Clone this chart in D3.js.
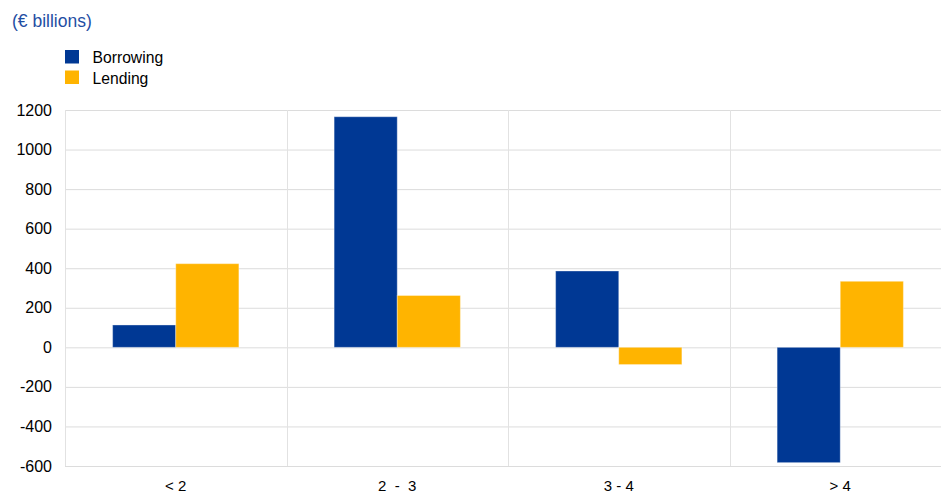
<!DOCTYPE html>
<html>
<head>
<meta charset="utf-8">
<script src="https://cdn.jsdelivr.net/npm/d3@7/dist/d3.min.js"></script>
<style>
    body { margin: 0; background: #fff; }
    svg { display: block; font-family: "Liberation Sans", Arial, sans-serif; }
    text { white-space: pre; }
</style>
</head>
<body>
<svg id="chart" width="941" height="492"></svg>
<script>
// data
const categories = ["< 2", "2  -  3", "3 - 4", "> 4"];
const series = ["Borrowing", "Lending"];
const borrowing = [113, 1166, 386, -583];
const lending = [423, 262, -87, 334];
const yTicks = [-600, -400, -200, 0, 200, 400, 600, 800, 1000, 1200];
const colors = ["#003894", "#ffb400"];

const svg = d3.select("#chart");
const width = +svg.attr("width");

const plotLeft = 65, plotTop = 110, plotBottom = 466;

const y = d3.scaleLinear().domain([-600, 1200]).range([plotBottom, plotTop]);

// the plot runs a little past the right edge of the picture
const x = d3.scaleBand().domain(categories).range([plotLeft, 951])
    .paddingInner(0.43).paddingOuter(0.215);
const step = x.step();
const xs = d3.scaleBand().domain(series).range([0, x.bandwidth()]);

// title
svg.append("text")
    .attr("x", 12).attr("y", 27)
    .attr("font-size", 17.5)
    .attr("fill", "#1f4ea3")
    .text("(€ billions)");

// legend
const legend = svg.append("g").attr("transform", "translate(65,50)");
series.forEach(function (s, i) {
    legend.append("rect")
        .attr("x", 0).attr("y", i * 20.5)
        .attr("width", 14).attr("height", 13.5)
        .attr("fill", colors[i]);
    legend.append("text")
        .attr("x", 27.5).attr("y", i * 20.5 + 13.3)
        .attr("font-size", 15.7)
        .attr("fill", "#000")
        .text(s);
});

// horizontal grid
svg.append("g").selectAll("line")
    .data(yTicks)
    .enter().append("line")
    .attr("x1", plotLeft).attr("x2", width)
    .attr("y1", d => y(d) + 0.5).attr("y2", d => y(d) + 0.5)
    .attr("stroke", "#dcdcdc")
    .attr("stroke-width", 1);

// vertical separators between categories
const seps = [plotLeft].concat(categories.slice(1).map(c => x(c) - x.paddingInner() * step / 2));
svg.append("g").selectAll("line")
    .data(seps)
    .enter().append("line")
    .attr("x1", d => Math.round(d) + 0.5).attr("x2", d => Math.round(d) + 0.5)
    .attr("y1", plotTop).attr("y2", plotBottom)
    .attr("stroke", "#e2e2e2")
    .attr("stroke-width", 1);

// y axis labels
svg.append("g").selectAll("text")
    .data(yTicks)
    .enter().append("text")
    .attr("x", 52)
    .attr("y", d => y(d) + 5.5)
    .attr("text-anchor", "end")
    .attr("font-size", 16)
    .attr("fill", "#000")
    .text(d => d);

// bars
const values = [borrowing, lending];
series.forEach(function (s, si) {
    svg.append("g").selectAll("rect")
        .data(categories)
        .enter().append("rect")
        .attr("x", (d) => x(d) + xs(s))
        .attr("width", xs.bandwidth())
        .attr("y", (d, i) => y(Math.max(0, values[si][i])))
        .attr("height", (d, i) => Math.abs(y(values[si][i]) - y(0)))
        .attr("fill", colors[si])
        .attr("stroke", "rgba(255,255,255,0.35)")
        .attr("stroke-width", 1);
});

// x axis labels
svg.append("g").selectAll("text")
    .data(categories)
    .enter().append("text")
    .attr("x", d => x(d) + x.bandwidth() / 2)
    .attr("y", 490.5)
    .attr("text-anchor", "middle")
    .attr("font-size", 15)
    .attr("fill", "#000")
    .text(d => d);
</script>
</body>
</html>
